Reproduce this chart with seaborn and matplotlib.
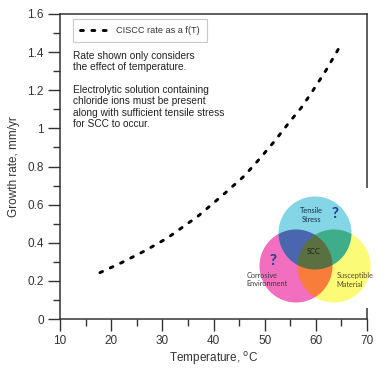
import numpy as np
import matplotlib
matplotlib.use("Agg")
import matplotlib.pyplot as plt
import seaborn as sns
import pandas as pd

# ---- data ----
temperature_c = [17.8, 22.0, 26.6, 31.0, 37.0, 42.2, 46.0, 49.1, 52.0, 54.9, 57.2, 59.3, 62.0, 64.6]
growth_rate = [0.243, 0.295, 0.358, 0.425, 0.540, 0.659, 0.750, 0.843, 0.935, 1.035, 1.110, 1.193, 1.305, 1.425]
series_label = "CISCC rate as a f(T)"
x_ticks = [10, 20, 30, 40, 50, 60, 70]
y_ticks = [0, 0.2, 0.4, 0.6, 0.8, 1.0, 1.2, 1.4, 1.6]
y_tick_labels = ["0", "0.2", "0.4", "0.6", "0.8", "1", "1.2", "1.4", "1.6"]
note_text = ("Rate shown only considers\nthe effect of temperature.\n\n"
             "Electrolytic solution containing\nchloride ions must be present\n"
             "along with sufficient tensile stress\nfor SCC to occur.")

df = pd.DataFrame({"T": temperature_c, "rate": growth_rate})

sns.set_style("ticks")
plt.rcParams["font.family"] = ["Liberation Sans", "DejaVu Sans"]

W, H = 382, 376
fig = plt.figure(figsize=(W / 100, H / 100), dpi=100)
ax = fig.add_axes([60 / W, 1 - 319 / H, (367 - 60) / W, (319 - 14) / H])

dark = "#333333"
sns.lineplot(data=df, x="T", y="rate", ax=ax, color="black", lw=2.1,
             linestyle=(0, (1.0, 2.9)), dash_capstyle="round", label=series_label)

ax.set_xlim(10, 70)
ax.set_ylim(0, 1.6)
ax.set_xticks(x_ticks)
ax.set_yticks(y_ticks)
ax.set_yticklabels(y_tick_labels)
ax.set_xticks(np.arange(15, 70, 10), minor=True)
ax.set_yticks(np.arange(0.1, 1.6, 0.2), minor=True)
ax.tick_params(which="major", direction="out", length=8.6, width=1.0, color=dark,
               labelsize=8.5, labelcolor=dark, pad=3)
ax.tick_params(which="minor", direction="out", length=5, width=1.0, color=dark)
for s in ax.spines.values():
    s.set_color(dark)
    s.set_linewidth(1.1)

ax.set_xlabel("Temperature, $^{\\mathrm{o}}$C", fontsize=8.5, color=dark, labelpad=2)
ax.set_ylabel("Growth rate, mm/yr", fontsize=8.5, color=dark, labelpad=5)

leg = ax.legend(loc="upper left", bbox_to_anchor=(0.042, 0.984), fontsize=6.6,
                frameon=True, fancybox=False, edgecolor="#c8c8c8", framealpha=1,
                handlelength=3.4, borderpad=0.75, handletextpad=0.6, borderaxespad=0)
leg.get_frame().set_linewidth(0.8)
for t in leg.get_texts():
    t.set_color(dark)

fig.text(73 / W, 1 - 51 / H, note_text, fontsize=7.3, color="#222222", va="top",
         ha="left", linespacing=1.17)

# ---- Venn clip-art inset ----
vx0, vx1, vy0, vy1 = 244, 382, 188, 308
vax = fig.add_axes([vx0 / W, 1 - vy1 / H, (vx1 - vx0) / W, (vy1 - vy0) / H], zorder=5)
vax.set_xlim(vx0, vx1)
vax.set_ylim(vy1, vy0)
vax.axis("off")
ss = 4
xs = np.linspace(vx0, vx1, (vx1 - vx0) * ss, endpoint=False) + 0.5 / ss
ys = np.linspace(vy0, vy1, (vy1 - vy0) * ss, endpoint=False) + 0.5 / ss
X, Y = np.meshgrid(xs, ys)
r = 36.5
top = (X - 315) ** 2 + (Y - 233) ** 2 < r ** 2
left = (X - 296) ** 2 + (Y - 266) ** 2 < r ** 2
right = (X - 334) ** 2 + (Y - 266) ** 2 < r ** 2


def hx(c):
    c = c.lstrip("#")
    return np.array([int(c[i:i + 2], 16) / 255 for i in (0, 2, 4)])


img = np.ones(X.shape + (3,))
img[top] = hx("#84d5e6")
img[left] = hx("#f16fbe")
img[right] = hx("#fbfb78")
img[top & left] = hx("#4a66b0")
img[top & right] = hx("#3fae8a")
img[left & right] = hx("#f87c3a")
img[top & left & right] = hx("#5c7040")
h, w = img.shape[:2]
img = img.reshape(h // ss, ss, w // ss, ss, 3).mean(axis=(1, 3))
vax.imshow(img, extent=(vx0, vx1, vy1, vy0), aspect="auto", interpolation="bilinear")

vfont = ["Lato", "DejaVu Sans"]
vax.text(311.5, 215, "Tensile\nStress", fontsize=5.3, color="#1c2a4a", ha="center",
         va="center", family=vfont, linespacing=1.25)
vax.text(335, 214, "?", fontsize=11, color="#1f3a8a", ha="center", va="center",
         family=vfont, fontweight="bold")
vax.text(273, 261, "?", fontsize=11, color="#1f3a8a", ha="center", va="center",
         family=vfont, fontweight="bold")
vax.text(314, 252, "SCC", fontsize=5.3, color="#1e1e1e", ha="center", va="center",
         family=vfont)
vax.text(246.5, 279.5, "Corrosive\nEnvironment", fontsize=5.3, color="#3a3a3a",
         ha="left", va="center", family=vfont, linespacing=1.3)
vax.text(336.5, 280, "Susceptible\nMaterial", fontsize=5.3, color="#5a4a2a",
         ha="left", va="center", family=vfont, linespacing=1.3)

fig.savefig("out.png", dpi=100)
